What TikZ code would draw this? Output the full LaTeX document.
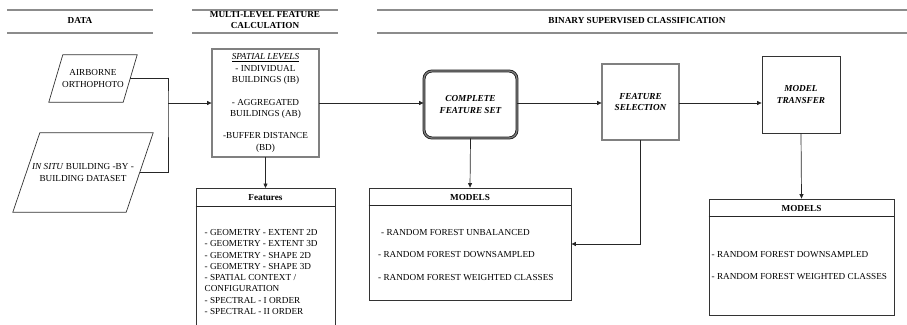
\documentclass[tikz,border=0pt]{standalone}
\usepackage{fontspec}
\setmainfont{Liberation Serif}
\usetikzlibrary{arrows.meta}

\begin{document}
\begin{tikzpicture}[x=1pt,y=-1pt,
  font=\fontsize{9.2}{11.3}\selectfont,
  rulebar/.style={draw=gray!90, line width=1.6pt},
  heading/.style={font=\fontsize{9.2}{11}\selectfont\bfseries, align=center, inner sep=0pt},
  flow/.style={draw=black!85, line width=0.7pt, -{Triangle[length=4.5pt,width=4pt]}},
  link/.style={draw=black!85, line width=0.7pt},
  dblbox/.style={draw=black!90, line width=0.8pt, double=black!50, double distance=1.3pt, align=center, inner sep=0pt},
  plainbox/.style={draw=black!80, line width=0.8pt, align=center, inner sep=0pt},
  emtext/.style={font=\fontsize{9.2}{11.3}\selectfont\bfseries\itshape},
  listtext/.style={inner sep=0pt, anchor=west, align=left},
  shadow/.style={draw=black!80, line width=0.7pt}
]
\useasboundingbox (0,0) rectangle (907,324);
\clip (0,0) rectangle (907,324);

% ---- section headings ----
\draw[rulebar] (7,10) -- (153,10);
\draw[rulebar] (7,33) -- (153,33);
\node[heading] (hdata) at (80,20.5) {DATA};

\draw[rulebar] (192,10) -- (338,10);
\draw[rulebar] (192,33) -- (338,33);
\node[heading] (hcalc) at (265,20.5) {MULTI-LEVEL FEATURE\\CALCULATION};

\draw[rulebar] (377,10) -- (910,10);
\draw[rulebar] (377,33) -- (910,33);
\node[heading] (hclass) at (637,20.5) {BINARY SUPERVISED CLASSIFICATION};

% ---- input data (parallelograms) ----
\node[align=center, inner sep=0pt, minimum width=88pt, minimum height=47pt] (ortho) at (93,78.5)
  {AIRBORNE\\ORTHOPHOTO};
\draw[shadow] ([xshift=14pt]ortho.north west) -- (ortho.north east)
  -- ([xshift=-14pt]ortho.south east) -- (ortho.south west) -- cycle;

\node[align=center, inner sep=0pt, minimum width=140pt, minimum height=79pt] (insitu) at (83,172.5)
  {\textit{IN SITU} BUILDING -BY -\\BUILDING DATASET};
\draw[shadow] ([xshift=27pt]insitu.north west) -- (insitu.north east)
  -- ([xshift=-27pt]insitu.south east) -- (insitu.south west) -- cycle;

\coordinate (join) at (168,103);

% ---- spatial levels ----
\node[dblbox, minimum width=107pt, minimum height=108pt] (spatial) at (265.5,103)
  {\underline{\textit{SPATIAL LEVELS}}\\- INDIVIDUAL\\BUILDINGS (IB)\\[11.3pt]- AGGREGATED\\BUILDINGS (AB)\\[11.3pt]-BUFFER DISTANCE\\(BD)};

% ---- feature list ----
\node[plainbox, minimum width=139pt, minimum height=170pt, anchor=north] (features) at (265.5,188) {};
\draw[link] ([yshift=-18pt]features.north west) -- ([yshift=-18pt]features.north east);
\node[heading] (feathead) at (265.5,197.5) {Features};
\node[listtext] (featlist) at (204.5,272)
  {- GEOMETRY - EXTENT 2D\\- GEOMETRY - EXTENT 3D\\- GEOMETRY - SHAPE 2D\\- GEOMETRY - SHAPE 3D\\- SPATIAL CONTEXT /\\CONFIGURATION\\- SPECTRAL - I ORDER\\- SPECTRAL - II ORDER};

% ---- classification steps ----
\node[dblbox, rounded corners=8pt, minimum width=93pt, minimum height=67pt, emtext] (cfs) at (470.5,104.5)
  {COMPLETE\\FEATURE SET};
\node[dblbox, minimum width=77pt, minimum height=76pt, emtext] (fs) at (640.5,102)
  {FEATURE\\SELECTION};
\node[plainbox, minimum width=78pt, minimum height=77pt, emtext] (mt) at (801,94.5)
  {MODEL\\TRANSFER};

% ---- model lists ----
\node[plainbox, minimum width=202pt, minimum height=112pt] (models) at (470,244) {};
\draw[link] ([yshift=-18pt]models.north west) -- ([yshift=-18pt]models.north east);
\node[heading] (modhead) at (470,197.5) {MODELS};
\node[listtext] (m1) at (381,232) {- RANDOM FOREST UNBALANCED};
\node[listtext] (m2) at (378,255) {- RANDOM FOREST DOWNSAMPLED};
\node[listtext] (m3) at (378,278) {- RANDOM FOREST WEIGHTED CLASSES};

\node[plainbox, minimum width=185pt, minimum height=116pt] (tmodels) at (801.5,257) {};
\draw[link] ([yshift=-18pt]tmodels.north west) -- ([yshift=-18pt]tmodels.north east);
\node[heading] (tmodhead) at (801.5,208.5) {MODELS};
\node[listtext] (t1) at (711.5,255) {- RANDOM FOREST DOWNSAMPLED};
\node[listtext] (t2) at (711.5,277) {- RANDOM FOREST WEIGHTED CLASSES};

% ---- connectors ----
\draw[link] ([xshift=-7pt]ortho.east) -| (join) |- ([xshift=-13.5pt]insitu.east);
\draw[flow] (join) -- (spatial.west);
\draw[flow] (spatial.south) -- (features.north);
\draw[flow] (spatial.east) -- (spatial.east -| cfs.west);
\draw[flow] (cfs.east |- spatial.east) -- (spatial.east -| fs.west);
\draw[flow] (fs.east |- spatial.east) -- (spatial.east -| mt.west);
\draw[flow] (cfs.south) -- (models.north);
\draw[flow] (fs.south) |- (models.east);
\draw[flow] (mt.south) -- (tmodels.north);
\end{tikzpicture}
\end{document}
